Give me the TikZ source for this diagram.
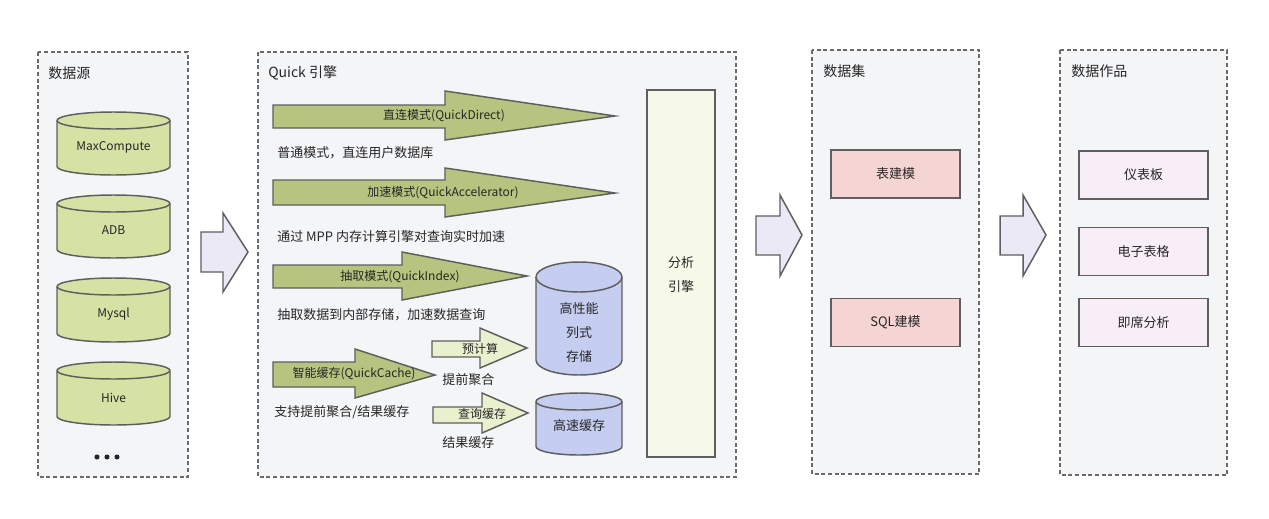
\documentclass[tikz,border=0pt]{standalone}
\usepackage{fontspec}
\setmainfont{Noto Sans CJK SC}
\definecolor{cbg}{HTML}{F4F5F7}
\definecolor{cline}{HTML}{5E5E5E}
\definecolor{cdash}{HTML}{6A6A6A}
\definecolor{colive}{HTML}{B5C47E}
\definecolor{cpgreen}{HTML}{E9F0CE}
\definecolor{cdbgreen}{HTML}{D6E2A4}
\definecolor{cblue}{HTML}{C5CDF0}
\definecolor{ccream}{HTML}{F7F9E8}
\definecolor{cpink}{HTML}{F5D5D3}
\definecolor{clav}{HTML}{F7EEF7}
\definecolor{cbigarrow}{HTML}{ECE9F7}
\definecolor{ctext}{HTML}{262626}
\newcommand{\mycyl}[6]{%
  \pgfmathsetmacro\cyx{(#1+#2)/2}%
  \pgfmathsetmacro\cyrx{(#2-#1)/2}%
  \pgfmathsetmacro\cykx{0.5523*\cyrx}%
  \pgfmathsetmacro\cyky{0.5523*#5}%
  \filldraw[shp, fill=#6] (#1,#3) -- (#1,#4)
    .. controls (#1,#4+\cyky) and (\cyx-\cykx,#4+#5) .. (\cyx,#4+#5)
    .. controls (\cyx+\cykx,#4+#5) and (#2,#4+\cyky) .. (#2,#4) -- (#2,#3)
    .. controls (#2,#3-\cyky) and (\cyx+\cykx,#3-#5) .. (\cyx,#3-#5)
    .. controls (\cyx-\cykx,#3-#5) and (#1,#3-\cyky) .. (#1,#3) -- cycle;
  \draw[shp] (#1,#3)
    .. controls (#1,#3+\cyky) and (\cyx-\cykx,#3+#5) .. (\cyx,#3+#5)
    .. controls (\cyx+\cykx,#3+#5) and (#2,#3+\cyky) .. (#2,#3);
}
\begin{document}
\begin{tikzpicture}[x=0.75pt,y=-0.75pt,
  container/.style={draw=cdash, fill=cbg, line width=1.1pt, dash pattern=on 3pt off 2pt},
  shp/.style={draw=cline, line width=1.1pt, line join=miter},
  title/.style={anchor=west, font=\fontsize{10.5}{12}\selectfont, text=ctext, inner sep=0pt},
  desc/.style={anchor=west, font=\fontsize{9.75}{12}\selectfont, text=ctext, inner sep=0pt},
  lab/.style={font=\fontsize{9}{11}\selectfont, text=ctext, inner sep=0pt},
  clab/.style={font=\fontsize{9.75}{12}\selectfont, text=ctext, inner sep=0pt, align=center},
  dotn/.style={circle, fill=ctext, minimum size=3.8pt, inner sep=0pt},
  box/.style={shp, minimum width=96.75pt, minimum height=36pt, inner sep=0pt, font=\fontsize{9.75}{12}\selectfont, text=ctext}]
\useasboundingbox (0,0) rectangle (1269,518);
\fill[white] (0,0) rectangle (1269,518);

% containers
\draw[container] (38,52) rectangle (188,477);
\draw[container] (258,52) rectangle (736,477);
\draw[container] (812,50) rectangle (979,474);
\draw[container] (1060,50) rectangle (1227,475);

\node[title] (tsrc) at (48,73) {数据源};
\node[title] (tq) at (268,73) {Quick 引擎};
\node[title] (tds) at (823,71) {数据集};
\node[title] (tw) at (1071,71) {数据作品};

% big lavender arrows
\filldraw[shp, fill=cbigarrow] (201,232) -- (223,232) -- (223,213) -- (248,252) -- (223,292) -- (223,272) -- (201,272) -- cycle;
\filldraw[shp, fill=cbigarrow] (756,216) -- (780,216) -- (780,195) -- (802,235) -- (780,276) -- (780,255) -- (756,255) -- cycle;
\filldraw[shp, fill=cbigarrow] (1000,216) -- (1023,216) -- (1023,195) -- (1046,235) -- (1023,276) -- (1023,255) -- (1000,255) -- cycle;

% data source cylinders
\mycyl{57}{170}{120.5}{166.5}{8.5}{cdbgreen}
\node[lab] (mc) at (113.5,147) {MaxCompute};
\mycyl{57}{170}{203.5}{249.5}{8.5}{cdbgreen}
\node[lab] (adb) at (113.5,230) {ADB};
\mycyl{57}{170}{286.5}{333.5}{8.5}{cdbgreen}
\node[lab] (mysql) at (113.5,314) {Mysql};
\mycyl{57}{170}{370.5}{416.5}{8.5}{cdbgreen}
\node[lab] (hive) at (113.5,398) {Hive};
\node[dotn] (dot1) at (97,457) {};
\node[dotn] (dot2) at (107,457) {};
\node[dotn] (dot3) at (117,457) {};

% Quick engine arrows
\filldraw[shp, fill=colive] (273,105) -- (445,105) -- (445,91) -- (615,116) -- (445,140) -- (445,128) -- (273,128) -- cycle;
\node[lab] (a1) at (444,116) {直连模式(QuickDirect)};
\node[desc] (d1) at (277,153) {普通模式，直连用户数据库};

\filldraw[shp, fill=colive] (273,180) -- (445,180) -- (445,168) -- (615,193) -- (445,217) -- (445,205) -- (273,205) -- cycle;
\node[lab] (a2) at (443,193) {加速模式(QuickAccelerator)};
\node[desc] (d2) at (277,237) {通过 MPP 内存计算引擎对查询实时加速};

\filldraw[shp, fill=colive] (273,265) -- (402,265) -- (402,252) -- (527,276) -- (402,300) -- (402,288) -- (273,288) -- cycle;
\node[lab] (a3) at (400,277) {抽取模式(QuickIndex)};
\node[desc] (d3) at (277,315) {抽取数据到内部存储，加速数据查询};

\filldraw[shp, fill=colive] (273,362) -- (355,362) -- (355,349) -- (435,375) -- (355,398) -- (355,387) -- (273,387) -- cycle;
\node[lab] (a4) at (354,374) {智能缓存(QuickCache)};
\node[desc] (d4) at (274,412) {支持提前聚合/结果缓存};

\filldraw[shp, fill=cpgreen] (432,341) -- (480,341) -- (480,328) -- (527,348) -- (480,368) -- (480,357) -- (432,357) -- cycle;
\node[lab] (a5) at (480,349) {预计算};
\node[desc] (d5) at (442,380) {提前聚合};

\filldraw[shp, fill=cpgreen] (433,407) -- (482,407) -- (482,393) -- (528,413) -- (482,433) -- (482,423) -- (433,423) -- cycle;
\node[lab] (a6) at (482,414) {查询缓存};
\node[desc] (d6) at (442,443) {结果缓存};

% storage cylinders
\mycyl{536}{622}{277}{360}{15}{cblue}
\node[clab] (perf) at (579,333) {高性能\\[6pt]列式\\[6pt]存储};
\mycyl{536}{622}{401.5}{446.5}{8.5}{cblue}
\node[clab] (cache) at (579,426) {高速缓存};

% analysis engine
\node[shp, fill=ccream, minimum width=51pt, minimum height=275.25pt, inner sep=0pt] (eng) at (681,273.5) {};
\node[clab] (engt) at (681,274.5) {分析\\[6.5pt]引擎};

% data set
\node[box, fill=cpink] (m1) at (895.5,174) {表建模};
\node[box, fill=cpink] (m2) at (895.5,322.5) {SQL建模};

% data works
\node[box, fill=clav] (w1) at (1143.5,175) {仪表板};
\node[box, fill=clav] (w2) at (1143.5,251.5) {电子表格};
\node[box, fill=clav] (w3) at (1143.5,322.5) {即席分析};
\end{tikzpicture}
\end{document}
